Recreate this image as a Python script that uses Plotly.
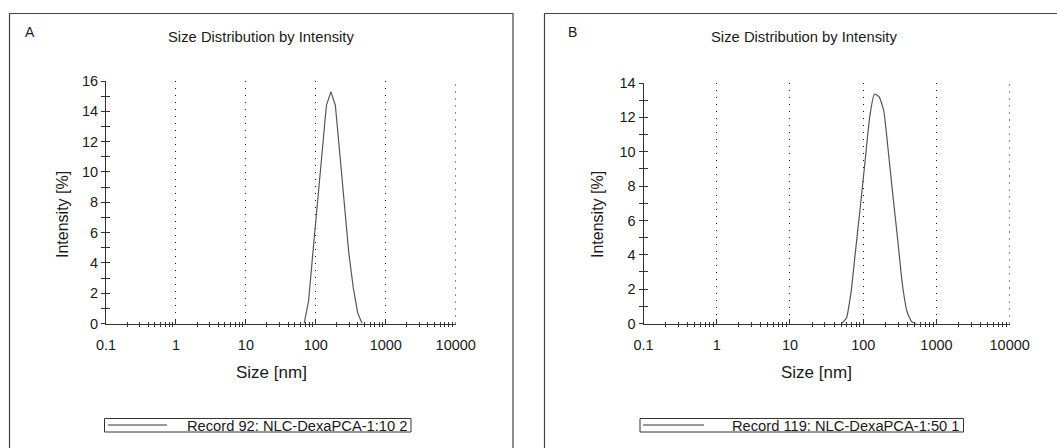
import plotly.graph_objects as go

# ---------------- data ----------------
size_a = [68.06, 78.82, 91.28, 105.7, 122.4, 141.8, 164.2, 190.1, 220.2, 255.0, 295.3, 342.0, 396.1, 458.7]
intensity_a = [0, 1.5, 4.8, 7.9, 11.4, 14.4, 15.3, 14.4, 11.2, 7.9, 4.7, 2.4, 0.7, 0]

size_b = [50.75, 58.77, 68.06, 78.82, 91.28, 105.7, 122.4, 141.8, 164.2, 190.1, 220.2, 255.0, 295.3, 342.0, 396.1, 458.7, 531.2]
intensity_b = [0, 0.3, 1.8, 4.3, 6.8, 9.4, 12.0, 13.35, 13.2, 12.4, 10.0, 7.4, 4.9, 2.3, 0.7, 0.1, 0]

record_a = "Record 92: NLC-DexaPCA-1:10 2"
record_b = "Record 119: NLC-DexaPCA-1:50 1"
panel_labels = ["A", "B"]
chart_title = "Size Distribution by Intensity"
x_title = "Size [nm]"
y_title = "Intensity [%]"

x_tickvals = [0.1, 1, 10, 100, 1000, 10000]
x_ticktext = ["0.1", "1", "10", "100", "1000", "10000"]
x_minor = [m * d for d in [0.1, 1, 10, 100, 1000] for m in range(2, 10)]

W, H = 1057, 448
FONT = "Liberation Sans, Arial, sans-serif"
TXT = "#1a1a1a"
AX = "#333333"

def px(x):
    return x / W

def py(y):
    return 1 - y / H

fig = go.Figure()

fig.add_trace(go.Scatter(x=size_a, y=intensity_a, mode="lines", name=record_a,
                         line=dict(color="#555555", width=1.2), xaxis="x", yaxis="y",
                         showlegend=False))
fig.add_trace(go.Scatter(x=size_b, y=intensity_b, mode="lines", name=record_b,
                         line=dict(color="#555555", width=1.2, shape="spline", smoothing=0.5),
                         xaxis="x2", yaxis="y2", showlegend=False))
# invisible traces for overlay axes (crossing ticks)
fig.add_trace(go.Scatter(x=[1], y=[0], mode="markers", marker=dict(opacity=0), xaxis="x3", yaxis="y3",
                         showlegend=False, hoverinfo="skip"))
fig.add_trace(go.Scatter(x=[1], y=[0], mode="markers", marker=dict(opacity=0), xaxis="x4", yaxis="y4",
                         showlegend=False, hoverinfo="skip"))

dom_a_x = [px(106), px(456)]
dom_b_x = [px(643.5), px(1010)]
dom_a_y = [py(323.5), py(81)]
dom_b_y = [py(323.5), py(83)]

XR = [-1, 4.004]
tickfont = dict(family=FONT, size=14.5, color=TXT)
GRID_DASH = "1px,6px"
GRID_COLOR = "#111111"

def main_x(domain, anchor):
    return dict(domain=domain, anchor=anchor, type="log", range=XR, automargin=False,
                tickmode="array", tickvals=x_tickvals, ticktext=x_ticktext,
                ticks="inside", ticklen=5, tickcolor=AX, tickwidth=1,
                minor=dict(tickmode="array", tickvals=x_minor, ticks="outside", ticklen=2,
                           tickcolor=AX, showgrid=False),
                showgrid=True, gridcolor=GRID_COLOR, griddash=GRID_DASH, gridwidth=1.3,
                showline=True, linecolor=AX, linewidth=1, zeroline=False,
                tickfont=tickfont, ticklabelstandoff=8, fixedrange=True)

def overlay_x(domain, anchor, over):
    return dict(domain=domain, anchor=anchor, overlaying=over, type="log", range=XR, automargin=False,
                tickmode="array", tickvals=x_minor, ticks="inside", ticklen=2, tickcolor=AX,
                showticklabels=False, showgrid=False, showline=False, zeroline=False)

def main_y(domain, anchor, top):
    return dict(domain=domain, anchor=anchor, range=[0, top], dtick=2, tick0=0, automargin=False,
                ticks="outside", ticklen=4, tickcolor=AX, tickwidth=1,
                minor=dict(dtick=1, tick0=0, ticks="outside", ticklen=4, tickcolor=AX, showgrid=False),
                showgrid=False, showline=True, linecolor=AX, linewidth=1, zeroline=False,
                tickfont=tickfont, fixedrange=True)

def overlay_y(domain, anchor, over, top):
    return dict(domain=domain, anchor=anchor, overlaying=over, range=[0, top], dtick=1, tick0=0,
                automargin=False, ticks="inside", ticklen=4, tickcolor=AX, showticklabels=False,
                showgrid=False, showline=False, zeroline=False)

fig.update_layout(
    width=W, height=H, margin=dict(l=0, r=0, t=0, b=0, autoexpand=False),
    paper_bgcolor="white", plot_bgcolor="white",
    font=dict(family=FONT, color=TXT),
    xaxis=main_x(dom_a_x, "y"),
    yaxis=main_y(dom_a_y, "x", 16),
    xaxis2=main_x(dom_b_x, "y2"),
    yaxis2=main_y(dom_b_y, "x2", 14),
    xaxis3=overlay_x(dom_a_x, "y3", "x"),
    yaxis3=overlay_y(dom_a_y, "x3", "y", 16),
    xaxis4=overlay_x(dom_b_x, "y4", "x2"),
    yaxis4=overlay_y(dom_b_y, "x4", "y2", 14),
)

shapes = []
# panel borders
shapes.append(dict(type="rect", xref="paper", yref="paper", x0=px(9.5), x1=px(513), y0=py(460), y1=py(13.5),
                   line=dict(color="#444444", width=1.2), fillcolor="rgba(0,0,0,0)"))
shapes.append(dict(type="rect", xref="paper", yref="paper", x0=px(544.5), x1=px(1070), y0=py(460), y1=py(13.5),
                   line=dict(color="#444444", width=1.2), fillcolor="rgba(0,0,0,0)"))
# last decade gridline (plotly omits the one at the range edge)
for xr, yr in [("x", "y domain"), ("x2", "y2 domain")]:
    shapes.append(dict(type="line", xref=xr, yref=yr, x0=x_tickvals[-1], x1=x_tickvals[-1], y0=0, y1=1,
                       line=dict(color=GRID_COLOR, width=1.3, dash=GRID_DASH), layer="below"))
# legend boxes
for (bx0, bx1, lx0, lx1) in [(104.5, 411, 108, 167), (640, 963.5, 643, 704)]:
    shapes.append(dict(type="rect", xref="paper", yref="paper", x0=px(bx0), x1=px(bx1), y0=py(432), y1=py(418.5),
                       line=dict(color="#333333", width=1), fillcolor="white"))
    shapes.append(dict(type="line", xref="paper", yref="paper", x0=px(lx0), x1=px(lx1), y0=py(425), y1=py(425),
                       line=dict(color="#333333", width=1)))
fig.update_layout(shapes=shapes)

ann = []
for cx, lab, lx in [(261, panel_labels[0], 30), (804, panel_labels[1], 572)]:
    ann.append(dict(text=chart_title, x=px(cx), y=py(37), xref="paper", yref="paper", showarrow=False,
                    xanchor="center", yanchor="middle", font=dict(family=FONT, size=14.8, color=TXT)))
    ann.append(dict(text=lab, x=px(lx), y=py(32), xref="paper", yref="paper", showarrow=False,
                    xanchor="center", yanchor="middle", font=dict(family=FONT, size=14, color=TXT)))
# axis titles
for xc, yc in [(271.5, 62), (816.5, 597)]:
    ann.append(dict(text=x_title, x=px(xc), y=py(372), xref="paper", yref="paper", showarrow=False,
                    xanchor="center", yanchor="middle", font=dict(family=FONT, size=17, color=TXT)))
    ann.append(dict(text=y_title, x=px(yc), y=py(215), xref="paper", yref="paper", showarrow=False,
                    textangle=-90, xanchor="center", yanchor="middle",
                    font=dict(family=FONT, size=16, color=TXT)))
for rx, rec in [(409, record_a), (962, record_b)]:
    ann.append(dict(text=rec, x=px(rx), y=py(425.5), xref="paper", yref="paper", showarrow=False,
                    xanchor="right", yanchor="middle", font=dict(family=FONT, size=14.7, color=TXT)))
fig.update_layout(annotations=ann)

fig.write_html("out.html", config={"displayModeBar": False},
               post_script="document.body.style.margin='0';document.body.style.overflow='hidden';")
